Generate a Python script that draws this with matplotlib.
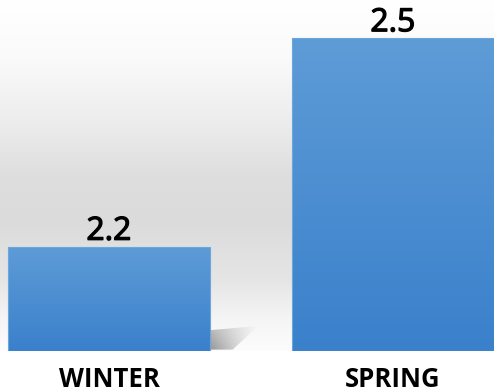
import numpy as np
import matplotlib
matplotlib.use("Agg")
import matplotlib.pyplot as plt
import matplotlib.transforms as mtransforms
import matplotlib.patheffects as pe
from matplotlib.colors import LinearSegmentedColormap
from matplotlib.patches import Polygon

categories = ["WINTER", "SPRING"]
values = [2.2, 2.5]
value_labels = ["2.2", "2.5"]

plt.rcParams['font.family'] = ['Open Sans', 'DejaVu Sans']

fig = plt.figure(figsize=(4.94, 3.92), dpi=100)
fig.patch.set_facecolor('white')
ax = fig.add_axes([0, 41 / 392, 1, 351 / 392])
ymin, ymax = 2.05, 2.555
xmin, xmax = -0.384, 1.356
for s in ax.spines.values():
    s.set_visible(False)
ax.set_xticks([])
ax.set_yticks([])

# background vertical gradient (axes fraction -> gray level)
fr = np.linspace(0, 1, 400)
lvl = np.interp(fr, [0, 0.09, 0.2, 0.37, 0.5, 0.63, 0.83, 1.0],
                [0.99, 0.96, 0.90, 0.86, 0.87, 0.92, 0.98, 1.0])
bg = np.dstack([lvl, lvl, lvl])[0][::-1].reshape(400, 1, 3)
ax.imshow(bg, extent=[0, 1, 0, 1], transform=ax.transAxes, aspect='auto',
          zorder=0, interpolation='bilinear')

width = 0.711
bar_cmap = LinearSegmentedColormap.from_list('b', ['#3a80cb', '#5e9cd7'])
x = np.arange(len(categories))
bars = ax.bar(x, [v - ymin for v in values], bottom=ymin, width=width,
              color='none', edgecolor='none', zorder=2)

grad = np.linspace(0, 1, 256).reshape(-1, 1)
for b in bars:
    x0, y0 = b.get_x(), b.get_y()
    w, h = b.get_width(), b.get_height()
    im = ax.imshow(grad, cmap=bar_cmap, origin='lower', aspect='auto',
                   extent=[x0, x0 + w, y0, y0 + h], zorder=3,
                   interpolation='bilinear')
    im.set_clip_path(b)
    ax.add_patch(plt.Rectangle((x0, y0), w, h, fill=False,
                               edgecolor='#6ba6dc', lw=0.8, zorder=4))

# soft shadow to the right of first bar
b = bars[0]
xr = b.get_x() + b.get_width()
base = ymin
sw, shh = 0.17, 0.036
poly = Polygon([(xr, base + 0.002), (xr, base + 0.030), (xr + sw, base + shh),
                (xr + 0.08, base + 0.002)], closed=True, facecolor='none',
               edgecolor='none', zorder=1.5)
ax.add_patch(poly)
gx = np.linspace(0, 1, 200)
gy = np.linspace(0, 1, 100)
GX, GY = np.meshgrid(gx, gy)
alpha = 0.7 * (1 - GX) ** 1.2 * (1 - 0.45 * GY)
rgba = np.zeros((100, 200, 4))
rgba[..., :3] = 0.40
rgba[..., 3] = alpha
sim = ax.imshow(rgba, origin='lower', aspect='auto',
                extent=[xr, xr + sw, base, base + shh], zorder=1.5,
                interpolation='bilinear')
sim.set_clip_path(poly)

ax.set_ylim(ymin, ymax)
ax.set_xlim(xmin, xmax)

# value labels
for xi, v, lab in zip(x, values, value_labels):
    tr = mtransforms.offset_copy(ax.transData, fig=fig, x=0, y=7, units='dots')
    ax.text(xi, v, lab, transform=tr, ha='center', va='baseline',
            fontsize=23, color='black', zorder=5,
            path_effects=[pe.withStroke(linewidth=0.9, foreground='black')])

# category labels
blend = mtransforms.blended_transform_factory(ax.transData, ax.transAxes)
for xi, cat in zip(x, categories):
    tr = mtransforms.offset_copy(blend, fig=fig, x=0, y=-36, units='dots')
    ax.text(xi, 0, cat, transform=tr, ha='center', va='baseline',
            fontsize=18.5, fontweight='bold', color='black', clip_on=False)

fig.savefig('out.png', dpi=100, facecolor='white')
